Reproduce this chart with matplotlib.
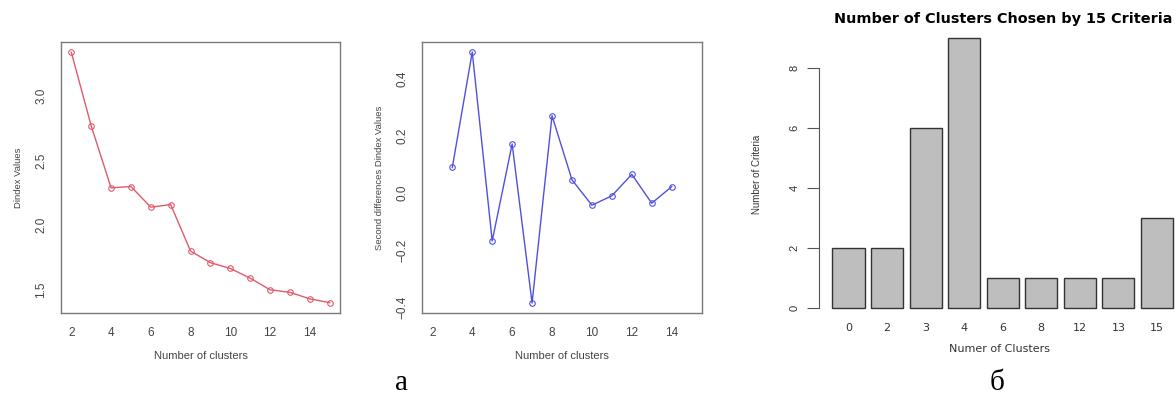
"""Recreate the NbClust Dindex / criteria summary figure."""

import matplotlib

matplotlib.use("Agg")
import matplotlib.pyplot as plt

clusters = list(range(2, 16))
dindex = [3.34, 2.77, 2.29, 2.30, 2.14, 2.16, 1.80, 1.71, 1.665, 1.59, 1.50, 1.48, 1.43, 1.40]

sec_clusters = list(range(3, 15))
sec_diff = [0.09, 0.494, -0.167, 0.172, -0.384, 0.271, 0.047, -0.042, -0.009, 0.066, -0.035, 0.023]

bar_labels = ["0", "2", "3", "4", "6", "8", "12", "13", "15"]
bar_counts = [2, 2, 6, 9, 1, 1, 1, 1, 3]

plt.rcParams["font.family"] = ["Liberation Sans", "DejaVu Sans"]
W, H = 1176, 397
fig = plt.figure(figsize=(W / 100, H / 100), dpi=100)
WIDE = ["DejaVu Sans"]
SERIF = ["Liberation Serif", "DejaVu Serif"]


def px_axes(left, top, right, bottom):
    return fig.add_axes([left / W, 1 - bottom / H, (right - left) / W, (bottom - top) / H])


def style_box(ax):
    for spine in ax.spines.values():
        spine.set_color("#7a7a7a")
        spine.set_linewidth(1.0)
    ax.tick_params(length=0, labelsize=8.5, labelcolor="#444444", pad=10)
    ax.set_xlim(1.48, 15.52)
    ax.set_xticks(range(2, 15, 2))
    for lab in ax.get_yticklabels():
        lab.set_rotation(90)
        lab.set_va("center")


# panel 1: Dindex values
ax1 = px_axes(61, 42, 340, 313)
ax1.plot(clusters, dindex, color="#e05a6a", lw=1.0, marker="o", ms=4, mfc="none", mew=0.8)
ax1.set_ylim(1.32, 3.42)
ax1.set_yticks([1.5, 2.0, 2.5, 3.0])
style_box(ax1)
ax1.set_xlabel("Number of clusters", fontsize=8, color="#444444", labelpad=9)
ax1.set_ylabel("Dindex Values", fontsize=6.8, color="#444444", labelpad=9)

# panel 2: second differences
ax2 = px_axes(422, 42, 702, 313)
ax2.plot(sec_clusters, sec_diff, color="#5050e0", lw=1.0, marker="o", ms=4, mfc="none", mew=0.8)
ax2.set_ylim(-0.419, 0.529)
ax2.set_yticks([-0.4, -0.2, 0.0, 0.2, 0.4])
style_box(ax2)
ax2.set_xlabel("Number of clusters", fontsize=8, color="#444444", labelpad=9)
ax2.set_ylabel("Second differences Dindex Values", fontsize=6.8, color="#444444", labelpad=9)

# panel 3: barplot of chosen numbers of clusters
ax3 = px_axes(819, 27, 1180, 321.5)
pos = [0.7 + 1.2 * i for i in range(len(bar_counts))]
ax3.bar(pos, bar_counts, width=1.0, color="#bebebe", edgecolor="#333333", linewidth=1.0)
ax3.set_xlim(-0.216, 11.016)
ax3.set_ylim(-0.45, 9.36)
for side in ["top", "right", "bottom"]:
    ax3.spines[side].set_visible(False)
ax3.spines["left"].set_bounds(0, 8)
ax3.spines["left"].set_color("#555555")
ax3.set_yticks([0, 2, 4, 6, 8])
ax3.tick_params(axis="y", length=9, color="#555555", labelsize=8, labelcolor="#333333", pad=5)
for lab in ax3.get_yticklabels():
    lab.set_rotation(90)
    lab.set_va("center")
ax3.set_xticks(pos)
ax3.set_xticklabels(bar_labels, family=WIDE)
ax3.tick_params(axis="x", length=0, labelsize=8, labelcolor="#333333", pad=1)
ax3.set_xlabel("Numer of Clusters", fontsize=8, color="#333333", labelpad=8, family=WIDE)
ax3.set_ylabel("Number of Criteria", fontsize=7, color="#333333", labelpad=20)
ax3.set_title("Number of Clusters Chosen by 15 Criteria", fontsize=10.4, fontweight="bold",
              pad=3, family=WIDE, x=0.51)

# sub-figure captions
fig.text(402 / W, 1 - 396 / H, "а", fontsize=21, family=SERIF, ha="center", va="bottom")
fig.text(997 / W, 1 - 396 / H, "б", fontsize=21, family=SERIF, ha="center", va="bottom")

fig.savefig("out.png", dpi=100, facecolor="white")
